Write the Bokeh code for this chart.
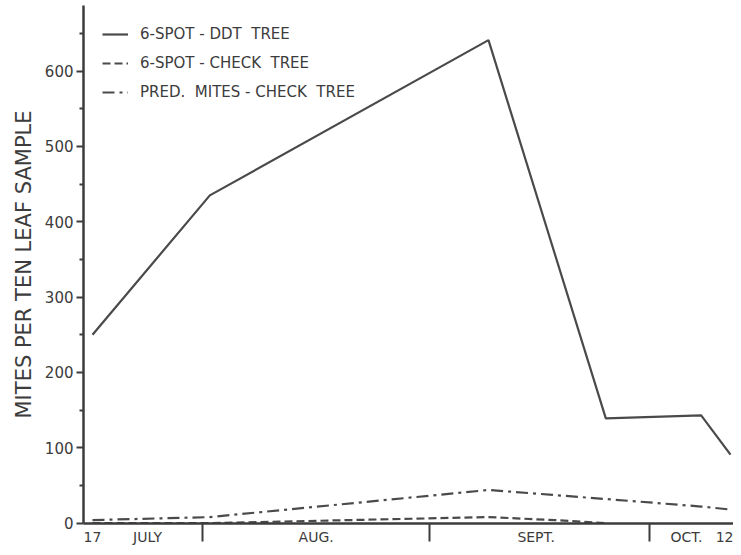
from bokeh.plotting import figure
from bokeh.models import Range1d, FixedTicker, Legend, LegendItem
from bokeh.embed import file_html
from bokeh.resources import INLINE

# Days counted from July 17
days_ddt = [0, 16, 54, 70, 83, 87]
ddt_tree = [250, 435, 641, 139, 143, 91]
days_check = [0, 16, 54, 63, 70]
check_tree = [0, 0, 8, 4, 0]
days_pred = [0, 16, 54, 70, 83, 87]
pred_mites = [4, 8, 44, 32, 22, 18]

month_starts = [15, 46, 76]
label_days = [0, 7.5, 30.5, 60.5, 81, 87]
label_texts = ["17", "JULY", "AUG.", "SEPT.", "OCT.", "12"]
y_ticks = [0, 100, 200, 300, 400, 500, 600]
y_minor = [50, 150, 250, 350, 450, 550, 650]

INK = "#3c3c3c"
LINE = "#4a4a4a"
FONT = "DejaVu Sans"

p = figure(width=733, height=547, output_backend="svg", toolbar_location=None,
           x_range=Range1d(-1.227, 87.41), y_range=Range1d(-0.5, 687),
           min_border_left=83, min_border_right=0, min_border_top=5, min_border_bottom=19)
p.outline_line_color = None
p.grid.visible = False
p.background_fill_color = "white"
p.border_fill_color = "white"

r1 = p.line(days_ddt, ddt_tree, line_color=LINE, line_width=2.2)
r2 = p.line(days_check, check_tree, line_color=LINE, line_width=2.2, line_dash="8 4")
r3 = p.line(days_pred, pred_mites, line_color=LINE, line_width=2.2, line_dash="12 5 3 5")

# Y axis
ya = p.yaxis[0]
ya.ticker = FixedTicker(ticks=y_ticks, minor_ticks=y_minor)
ya.axis_line_color = INK
ya.axis_line_width = 2.5
ya.major_tick_line_color = INK
ya.major_tick_line_width = 2
ya.major_tick_out = 7
ya.major_tick_in = 0
ya.minor_tick_line_color = INK
ya.minor_tick_line_width = 2
ya.minor_tick_out = 4
ya.minor_tick_in = 0
ya.major_label_text_font = FONT
ya.major_label_text_font_size = "15px"
ya.major_label_text_color = INK
ya.major_label_standoff = 3
ya.axis_label = "MITES PER TEN LEAF SAMPLE"
ya.axis_label_text_font = FONT
ya.axis_label_text_font_size = "21px"
ya.axis_label_text_font_style = "normal"
ya.axis_label_text_color = INK
ya.axis_label_standoff = 6

# X axis: month names between month-boundary ticks
xa = p.xaxis[0]
xa.ticker = FixedTicker(ticks=label_days, minor_ticks=month_starts)
xa.major_label_overrides = {d: t for d, t in zip(label_days, label_texts)}
xa.axis_line_color = INK
xa.axis_line_width = 2.5
xa.major_tick_out = 0
xa.major_tick_in = 0
xa.major_tick_line_alpha = 0
xa.minor_tick_line_color = INK
xa.minor_tick_line_width = 2
xa.minor_tick_out = 18
xa.minor_tick_in = 0
xa.major_label_text_font = FONT
xa.major_label_text_font_size = "14px"
xa.major_label_text_color = INK
xa.major_label_standoff = -13

legend = Legend(items=[
    LegendItem(label="6-SPOT - DDT  TREE", renderers=[r1]),
    LegendItem(label="6-SPOT - CHECK  TREE", renderers=[r2]),
    LegendItem(label="PRED.  MITES - CHECK  TREE", renderers=[r3]),
], location="top_left")
legend.border_line_alpha = 0
legend.background_fill_alpha = 0
legend.label_text_font = FONT
legend.label_text_font_size = "15px"
legend.label_text_color = INK
legend.glyph_width = 26
legend.label_standoff = 12
legend.spacing = 9
legend.margin = 11
legend.padding = 8
p.add_layout(legend)

open("out.html", "w").write(file_html(p, INLINE))
